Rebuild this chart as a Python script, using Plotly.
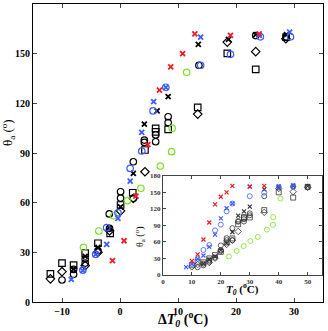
import plotly.graph_objs as go

# ---- main panel: contact angle vs. undercooling dT0; inset: vs. T0 ----
red_dT = [-1.3, 0.7, 2.75, 4.8, 6.8, 8.75, 10.8, 12.9, 19.05, 24.0]
red_T0 = [10, 12, 14, 16, 18, 20, 22, 24, 30, 35]
red_theta = [25, 37, 64, 95, 128, 142, 150, 162, 161, 162]

blue_o_dT = [-6.4, -4.2, -2.3, -0.35, 1.75, 3.75, 5.7, 7.9, 13.9, 19.05, 24.2, 29.4]
blue_o_T0 = [10, 12, 14, 16, 18, 20, 22, 24, 30, 35, 40, 45]
blue_o_theta = [19.3, 28.8, 44.9, 53.9, 80.7, 91.2, 115.4, 129.7, 143, 149.6, 160.2, 160.2]

blue_x_dT = [-8.4, -6.4, -4.2, -2.3, -0.35, 1.75, 3.75, 5.8, 7.9, 13.9, 24.0, 29.25]
blue_x_T0 = [8, 10, 12, 14, 16, 18, 20, 22, 24, 30, 40, 45]
blue_x_theta = [13.7, 19, 28.8, 34.8, 50.5, 73, 102.5, 121, 129.7, 160, 161, 163]

green_dT = [-6.3, -3.65, -1.1, 1.3, 3.6, 6.95, 8.9, 9.0, 11.5]
green_T0 = [22.8, 25.5, 27.9, 30.2, 32.8, 35.9, 38.0, 38.1, 40.6]
green_theta = [33, 42.9, 52.1, 61.2, 68.7, 82.1, 90.8, 104.9, 138.7]

blk_o_dT = [-10, -8, -8, -6, -6, -3.8, -1.85, -1.8, 0.1, 0.1, 2.3, 2.3, 4.2, 4.2,
            6.15, 6.15, 8.3, 8.3, 13.6, 23.4, 28.65]
blk_o_T0 = [12, 14, 14, 16, 16, 18, 20, 20, 22, 22, 24, 24, 26, 26,
            28, 28, 30, 30, 35, 45, 50]
blk_o_theta = [13.3, 19.7, 16.7, 26, 23.5, 31, 53.2, 44.5, 66.6, 62.8, 84.7, 62.6, 97.8, 96.4,
               100.9, 96.8, 111.9, 108.3, 143, 160.9, 160.2]

blk_s_dT = [-12, -10, -8, -6, -3.8, -1.7, 0.1, 2.2, 4.3, 6.15, 6.15, 8.3, 13.4, 18.5, 23.4, 28.65]
blk_s_T0 = [10, 12, 14, 16, 18, 20, 22, 24, 26, 28, 28, 30, 35, 40, 45, 50]
blk_s_theta = [17, 23.5, 22.3, 29.5, 35.5, 41.5, 58.6, 66, 91.8, 104.9, 102.8, 104.3, 117.6, 150.2, 140.5, 160]

blk_d_dT = [-12, -10, -6, -3.8, -1.8, 0.1, 2.3, 4.3, 13.4, 18.5, 23.4, 28.6]
blk_d_T0 = [10, 12, 16, 18, 20, 22, 24, 26, 35, 40, 45, 50]
blk_d_theta = [14, 18.3, 22, 30, 43, 55, 62.6, 78.7, 113.5, 157, 151.2, 159]

blk_x_dT = [-8, -6, -3.8, -1.8, 0.1, 2.3, 4.2, 6.4, 8.3, 13.5, 18.7, 23.4, 28.7]
blk_x_T0 = [14, 16, 18, 20, 22, 24, 26, 28, 30, 35, 40, 45, 50]
blk_x_theta = [20, 27.5, 33, 44.5, 57.5, 77.7, 107.5, 115.4, 124, 155.6, 158.6, 161.5, 161.5]

RED = '#ee1c25'
BLUE = '#3d5cff'
GREEN = '#80e02a'
FONT = 'Liberation Serif'

series = [
    (blk_s_dT, blk_s_T0, blk_s_theta, 'square-open', 'black'),
    (blk_d_dT, blk_d_T0, blk_d_theta, 'diamond-open', 'black'),
    (blk_o_dT, blk_o_T0, blk_o_theta, 'circle-open', 'black'),
    (blk_x_dT, blk_x_T0, blk_x_theta, 'x-thin', 'black'),
    (green_dT, green_T0, green_theta, 'circle-open', GREEN),
    (blue_o_dT, blue_o_T0, blue_o_theta, 'circle-open', BLUE),
    (blue_x_dT, blue_x_T0, blue_x_theta, 'x-thin', BLUE),
    (red_dT, red_T0, red_theta, 'x-thin', RED),
]


def make_plot():
    traces = []
    for dT, T0, theta, sym, col in series:
        is_x = sym.startswith('x')
        inset_col = '#333' if col == 'black' else col
        traces.append(go.Scatter(
            x=dT, y=theta, mode='markers', xaxis='x', yaxis='y',
            marker=dict(symbol=sym, color=col, size=5 if is_x else 6.5,
                        line=dict(color=col, width=1.8 if is_x else 1.2)),
        ))
        traces.append(go.Scatter(
            x=T0, y=theta, mode='markers', xaxis='x2', yaxis='y2',
            marker=dict(symbol=sym, color=inset_col, size=4 if is_x else 5,
                        line=dict(color=inset_col, width=1.2 if is_x else 0.8)),
        ))

    tick_main = dict(family=FONT, size=10, color='black', weight='bold')
    tick_in = dict(family=FONT, size=7, color='#333', weight='bold')

    common = dict(showline=True, showgrid=False, zeroline=False, mirror='ticks',
                  ticks='inside', automargin=False)

    layout = go.Layout(
        width=328, height=331,
        showlegend=False,
        paper_bgcolor='white', plot_bgcolor='white',
        margin=dict(l=33, r=5, t=4, b=29),
        xaxis=dict(domain=[0, 1], range=[-15, 35], tickvals=[-10, 0, 10, 20, 30],
                   ticklen=4, linecolor='black', linewidth=1,
                   tickfont=tick_main, **common),
        yaxis=dict(domain=[0, 1], range=[0, 180], tickvals=[0, 30, 60, 90, 120, 150, 180],
                   ticklen=4, linecolor='black', linewidth=1,
                   tickfont=tick_main, **common),
        xaxis2=dict(domain=[0.448, 0.997], anchor='y2', range=[0, 55],
                    tickvals=[0, 10, 20, 30, 40, 50], ticklen=3,
                    linecolor='#444', linewidth=1, tickfont=tick_in, **common),
        yaxis2=dict(domain=[0.092, 0.423], anchor='x2', range=[0, 180],
                    tickvals=[0, 30, 60, 90, 120, 150, 180], ticklen=3,
                    linecolor='#444', linewidth=1, tickfont=tick_in, **common),
        annotations=[
            dict(text='<b>Δ<i>T</i><sub><i>0</i></sub> (<sup>o</sup>C)</b>',
                 xref='paper', yref='paper', x=0.517, y=-0.058,
                 xanchor='center', yanchor='middle', showarrow=False,
                 font=dict(family=FONT, size=14, color='black')),
            dict(text='θ<sub>a</sub> (<sup>o</sup>)',
                 xref='paper', yref='paper', x=-0.086, y=0.567, textangle=-90,
                 xanchor='center', yanchor='middle', showarrow=False,
                 font=dict(family=FONT, size=13, color='black')),
            dict(text='<b><i>T</i><sub><i>0</i></sub> (<sup>o</sup>C)</b>',
                 xref='paper', yref='paper', x=0.724, y=0.045,
                 xanchor='center', yanchor='middle', showarrow=False,
                 font=dict(family=FONT, size=11, color='black')),
            dict(text='θ<sub>a</sub> (<sup>o</sup>)',
                 xref='paper', yref='paper', x=0.369, y=0.218, textangle=-90,
                 xanchor='center', yanchor='middle', showarrow=False,
                 font=dict(family=FONT, size=10, color='black')),
        ],
    )

    fig = go.Figure(data=traces, layout=layout)
    # the page's default body margin would shift the 328x331 figure; remove it
    fig.write_html('out.html',
                   config={'displayModeBar': False},
                   post_script="document.body.style.margin='0';"
                               "document.body.style.overflow='hidden';")


if __name__ == '__main__':
    make_plot()
